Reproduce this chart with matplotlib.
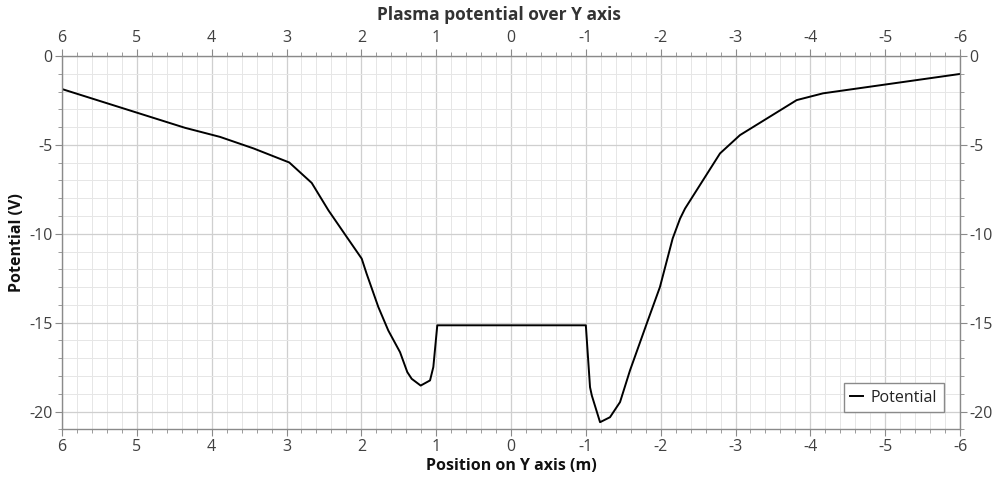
import matplotlib
matplotlib.use("Agg")
import matplotlib.pyplot as plt
from matplotlib.ticker import MultipleLocator, FormatStrFormatter

plt.rcParams['font.family'] = ['Open Sans', 'DejaVu Sans']
plt.rcParams['axes.unicode_minus'] = False

position = [6.0, 4.356, 3.889, 3.44, 2.963, 2.663, 2.44, 2.2, 1.995, 1.93, 1.773,
            1.64, 1.483, 1.386, 1.327, 1.207, 1.082, 1.038, 0.985, -1.0, -1.056,
            -1.08, -1.19, -1.323, -1.457, -1.59, -1.813, -1.99, -2.16, -2.259,
            -2.326, -2.793, -3.06, -3.818, -4.17, -6.0]
potential = [-1.86, -4.04, -4.55, -5.2, -5.99, -7.14, -8.68, -10.15, -11.4, -12.24, -14.12,
             -15.44, -16.66, -17.78, -18.16, -18.54, -18.25, -17.5, -15.15, -15.15, -18.63,
             -19.1, -20.6, -20.32, -19.47, -17.69, -15.06, -13.0, -10.27, -9.15,
             -8.58, -5.48, -4.45, -2.48, -2.1, -1.01]

W, H = 993, 479
fig = plt.figure(figsize=(W / 100, H / 100), dpi=100)
ax = fig.add_axes([62 / W, (H - 429.3) / H, (960 - 62) / W, (429.3 - 56) / H])

ax.plot(position, potential, color='black', lw=1.4, label='Potential')
ax.set_xlim(6, -6)
ax.set_ylim(-21, 0)

ax.xaxis.set_major_locator(MultipleLocator(1))
ax.xaxis.set_minor_locator(MultipleLocator(0.2))
ax.yaxis.set_major_locator(MultipleLocator(5))
ax.yaxis.set_minor_locator(MultipleLocator(1))
ax.xaxis.set_major_formatter(FormatStrFormatter('%d'))
ax.yaxis.set_major_formatter(FormatStrFormatter('%d'))

ax.grid(which='major', color='#cfcfcf', lw=0.9)
ax.grid(which='minor', color='#e6e6e6', lw=0.7)
ax.set_axisbelow(True)

for s in ax.spines.values():
    s.set_color('#8a8a8a')
    s.set_linewidth(1.0)

ax.tick_params(which='major', direction='out', length=5, color='#8a8a8a',
               labelsize=11.5, labelcolor='#404040', top=True, right=True,
               labeltop=True, labelright=True, pad=2)
ax.tick_params(which='minor', direction='out', length=3, color='#8a8a8a',
               top=True, right=True)

fig.text(0.502, 1 - 15 / H, 'Plasma potential over Y axis', fontsize=12.5,
         fontweight='bold', color='#333333', ha='center', va='center')
ax.set_xlabel('Position on Y axis (m)', fontsize=11.5, fontweight='bold', color='#111111', labelpad=2)
ax.set_ylabel('Potential (V)', fontsize=11.5, fontweight='bold', color='#111111', labelpad=3)

leg = ax.legend(loc='lower right', bbox_to_anchor=(0.982, 0.046), fontsize=11.5,
                handlelength=0.8, handletextpad=0.5, fancybox=False, framealpha=1,
                borderpad=0.4, borderaxespad=0, labelcolor='#222222')
leg.get_frame().set_edgecolor('#8a8a8a')
leg.get_frame().set_linewidth(1.0)

fig.savefig('out.png', dpi=100, facecolor='white')
